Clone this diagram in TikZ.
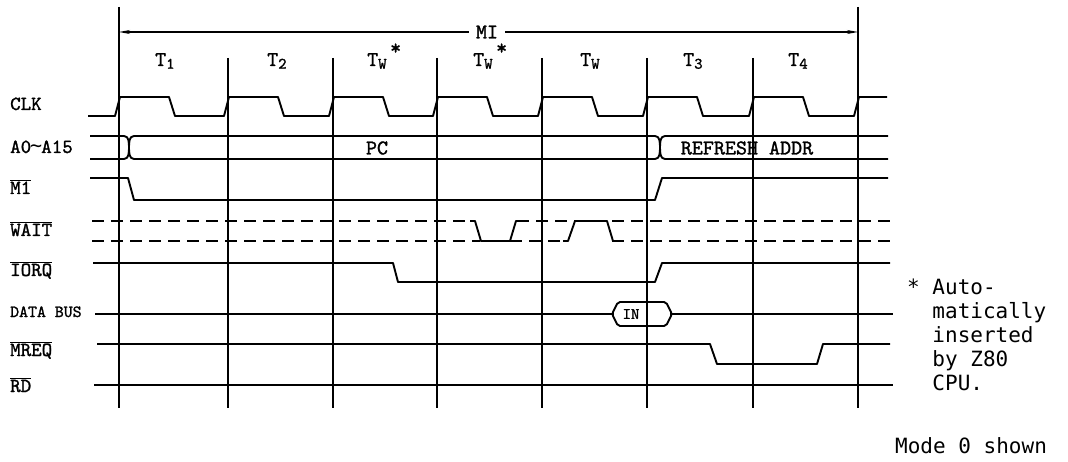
\documentclass[tikz,border=0pt]{standalone}
\usepackage{fontspec}
\newfontfamily\typefont[FakeBold=1.3]{lmmono10-regular.otf}
\newfontfamily\notefont{DejaVu Sans Mono}
\usepackage{tikz}
\usetikzlibrary{arrows.meta,positioning}
\tikzstyle{signal} = [line width=1.9pt, line join=round]
\tikzstyle{gridline} = [line width=1.2pt]
\tikzstyle{dashsig} = [line width=1.9pt, dash pattern=on 12pt off 7pt]
\tikzstyle{siglabel} = [anchor=base west, inner sep=0pt, font=\typefont\fontsize{20}{20}\selectfont]
\tikzstyle{phase} = [anchor=base west, inner sep=0pt, font=\typefont\fontsize{21}{21}\selectfont]
\tikzstyle{buslabel} = [inner sep=0pt, font=\typefont\fontsize{21}{21}\selectfont]
\tikzstyle{note} = [anchor=north west, align=left, inner sep=0pt, font=\notefont\fontsize{21}{24}\selectfont]
\tikzstyle{arrow} = [line width=1.2pt, -{Stealth[length=11pt,width=4pt]}]
\newcommand{\ovl}[1]{$\overline{\hbox{#1}}$}
\newcommand{\tcyc}[2]{T\raisebox{-0.3ex}{\fontsize{16}{16}\selectfont #1}#2}
\newcommand{\wstar}{\raisebox{0.55em}{\,*}}
\newcommand{\wave}{{\notefont\fontsize{20}{20}\selectfont\kern-1pt\symbol{"223C}\kern-1pt}}

\begin{document}
\begin{tikzpicture}[x=1pt, y=-1pt]
\useasboundingbox (0,0) rectangle (1068,462);

\foreach \x/\t in {119/7,228/58,333/58,437/58,542/58,647/58,753/58,858/7}
  \draw[gridline] (\x,\t) -- (\x,408);

\coordinate (mistart) at (119,32);
\coordinate (miend) at (858,32);
\node[buslabel, fill=white, inner xsep=7pt, inner ysep=3pt] (mi) at (487,32) {MI};
\draw[arrow] (mi) -- (mistart);
\draw[arrow] (mi) -- (miend);

\node[phase] (t1) at (155,66) {\tcyc{1}{}};
\node[phase] (t2) at (267,66) {\tcyc{2}{}};
\node[phase] (tw1) at (367,66) {\tcyc{W}{\wstar}};
\node[phase] (tw2) at (473,66) {\tcyc{W}{\wstar}};
\node[phase] (tw3) at (580,66) {\tcyc{W}{}};
\node[phase] (t3) at (683,66) {\tcyc{3}{}};
\node[phase] (t4) at (788,66) {\tcyc{4}{}};

\node[siglabel] (clk) at (10,110) {CLK};
\node[siglabel] (addr) at (10,153) {A0\wave A15};
\node[siglabel] (mone) at (10,194) {\ovl{M1}};
\node[siglabel] (wait) at (10,236) {\ovl{WAIT}};
\node[siglabel] (iorq) at (10,276) {\ovl{IORQ}};
\node[siglabel, font=\typefont\fontsize{17}{17}\selectfont] (data) at (10,317) {DATA BUS};
\node[siglabel] (mreq) at (10,356) {\ovl{MREQ}};
\node[siglabel] (rd) at (10,392) {\ovl{RD}};

\draw[signal] (88,116) \foreach \s in {119,228,333,437,542,647,753} { -- (\s-4,116) -- (\s+1,97) -- (\s+50,97) -- (\s+56,116) } -- (854,116) -- (859,97) -- (887,97);

\draw[signal] (90,136) -- (124,136) to[out=0,in=90] (129,147.5) to[out=-90,in=180] (134,159) -- (655,159) to[out=0,in=-90] (660,147.5) to[out=90,in=180] (665,136) -- (888,136);
\draw[signal] (90,159) -- (124,159) to[out=0,in=-90] (129,147.5) to[out=90,in=180] (134,136) -- (655,136) to[out=0,in=90] (660,147.5) to[out=-90,in=180] (665,159) -- (888,159);
\node[buslabel] (pc) at (377,148) {PC};
\node[buslabel] (refresh) at (747,148) {REFRESH ADDR};

\draw[signal] (90,178) -- (128,178) -- (134,200) -- (655,200) -- (662,178) -- (888,178);

\draw[dashsig] (92,221) -- (475,221);
\draw[dashsig] (517,221) -- (893,221);
\draw[dashsig] (92,241) -- (480,241);
\draw[dashsig] (510,241) -- (568,241);
\draw[dashsig] (612,241) -- (895,241);
\draw[signal] (470,221) -- (475,221) -- (481,241) -- (510,241) -- (516,221) -- (522,221);
\draw[signal] (563,241) -- (568,241) -- (575,221) -- (607,221) -- (613,241) -- (618,241);

\draw[signal] (93,263) -- (393,263) -- (398,282) -- (655,282) -- (662,263) -- (890,263);

\draw[signal] (95,314) -- (612,314);
\draw[signal, rounded corners=2pt] (612,314) -- (618,302) -- (666,302) -- (672,314) -- (666,326) -- (618,326) -- cycle;
\draw[signal] (672,314) -- (893,314);
\node[buslabel, font=\typefont\fontsize{16}{16}\selectfont] (inlbl) at (631,314) {IN};

\draw[signal] (97,344) -- (710,344) -- (717,364) -- (817,364) -- (823,344) -- (890,344);

\draw[signal] (94,385) -- (893,385);

\node[note] (star) at (907,279) {*~Auto-\\\phantom{*~}matically\\\phantom{*~}inserted\\\phantom{*~}by Z80\\\phantom{*~}CPU.};
\node[note] (mode) at (895,437) {Mode 0 shown};
\end{tikzpicture}
\end{document}
